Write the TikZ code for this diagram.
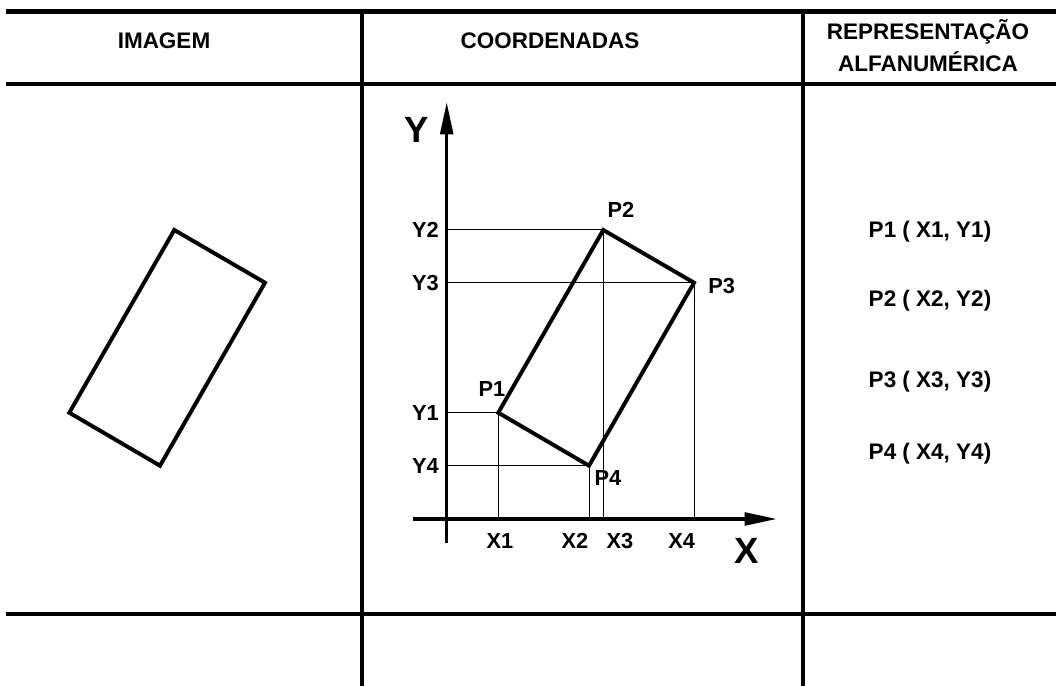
\documentclass[tikz,border=0pt]{standalone}
\usepackage{fontspec}
\setmainfont{Liberation Sans}
\usetikzlibrary{arrows.meta, positioning}

\begin{document}
\begin{tikzpicture}[font=\bfseries,
    rule/.style={line width=3.2pt},
    colrule/.style={line width=2.3pt},
    outline/.style={line width=2.8pt, line join=miter},
    guide/.style={line width=0.7pt},
    axis/.style={line width=2.5pt, -{Triangle[length=23pt, width=9pt]}},
    head/.style={font=\fontsize{16}{19}\selectfont\bfseries, anchor=base},
    lbl/.style={font=\fontsize{15.5}{18}\selectfont\bfseries, inner sep=0pt},
    entry/.style={font=\fontsize{16}{19}\selectfont\bfseries, anchor=base}]
  \useasboundingbox (0,0) rectangle (26.4,17.15);

  % table
  \draw[rule] (0.15,16.86) -- (26.4,16.86);
  \draw[rule] (0.15,15.05) -- (26.4,15.05);
  \draw[rule] (0.15,1.8) -- (26.4,1.8);
  \draw[colrule] (9.05,16.86) -- (9.05,0);
  \draw[colrule] (20.075,16.86) -- (20.075,0);

  \node[head] (imagem) at (4.1,15.94) {IMAGEM};
  \node[head] (coord) at (13.75,15.94) {COORDENADAS};
  \node[head] (repr) at (23.2,16.15) {REPRESENTAÇÃO};
  \node[head] (alfa) at (23.2,15.36) {ALFANUMÉRICA};

  % imagem
  \draw[outline] (1.7325,6.8325) -- (4.3575,11.4) -- (6.625,10.0825) -- (4.0,5.5075) -- cycle;

  % coordenadas
  \coordinate (O) at (11.1675,4.175);
  \coordinate (P1) at (12.4575,6.8325);
  \coordinate (P2) at (15.0825,11.4);
  \coordinate (P3) at (17.35,10.0825);
  \coordinate (P4) at (14.725,5.5075);

  \foreach \i in {1,...,4} {
    \coordinate (ty\i) at (P\i -| O);
    \coordinate (tx\i) at (P\i |- O);
    \draw[guide] (ty\i) -- (P\i) -- (tx\i);
    \node[lbl, left=0.19 of ty\i] (y\i) {Y\i};
  }
  \draw[outline] (P1) -- (P2) -- (P3) -- (P4) -- cycle;

  \draw[axis] (10.325,4.175) -- (19.425,4.175);
  \draw[axis] (11.1675,3.575) -- (11.1675,14.6);
  \node[font=\fontsize{26}{30}\selectfont\bfseries] (ylab) at (10.4175,13.9) {Y};
  \node[font=\fontsize{26}{30}\selectfont\bfseries] (xlab) at (18.6675,3.375) {X};

  \foreach \i/\x in {1/12.5, 2/14.375, 3/15.5, 4/17.0425}
    \node[lbl] (x\i) at (\x,3.6175) {X\i};

  \node[lbl] (p1) at (12.3,7.4175) {P1};
  \node[lbl] (p2) at (15.525,11.9125) {P2};
  \node[lbl] (p3) at (18.0425,10.005) {P3};
  \node[lbl] (p4) at (15.2,5.1925) {P4};

  % representacao
  \foreach \i/\y in {1/11.2175, 2/9.4825, 3/7.4675, 4/5.65}
    \node[entry] (r\i) at (23.25,\y) {P\i{} ( X\i, Y\i)};
\end{tikzpicture}
\end{document}
